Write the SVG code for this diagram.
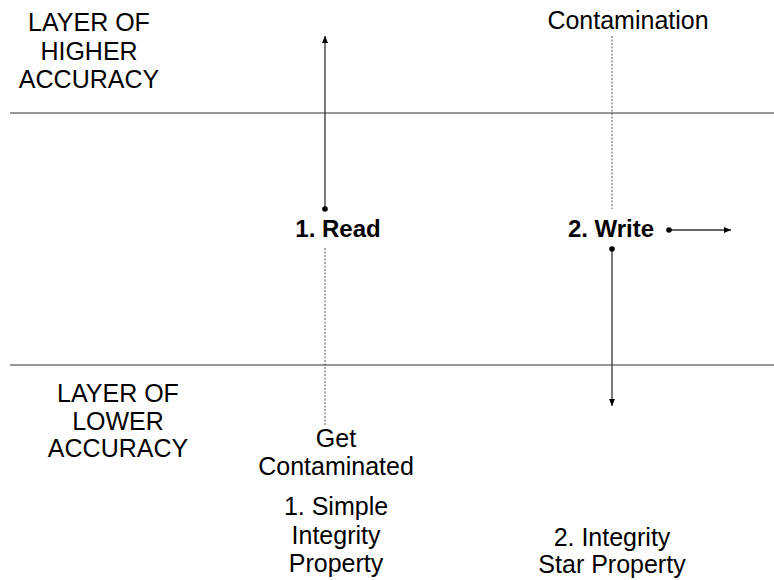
<svg xmlns="http://www.w3.org/2000/svg" width="774" height="580" viewBox="0 0 774 580">
  <style>
    text { font-family: "Liberation Sans", Arial, sans-serif; font-size: 25px; fill: #000; text-anchor: middle; }
    .bold { font-weight: bold; font-size: 24px; }
    .layer { stroke: #333; stroke-width: 1.2; fill: none; }
    .arrow { stroke: #333; stroke-width: 1.3; fill: none; marker-end: url(#head); }
    .dots { stroke: #555; stroke-width: 1; stroke-dasharray: 2 1.5; fill: none; }
    .dot { fill: #000; }
  </style>
  <defs>
    <marker id="head" markerWidth="8" markerHeight="8" refX="7" refY="4" orient="auto" markerUnits="userSpaceOnUse">
      <path d="M0,1 L7,4 L0,7 Z" fill="#000"/>
    </marker>
  </defs>

  <!-- layer boundaries -->
  <g id="layers">
    <line class="layer" x1="10" y1="113" x2="774" y2="113"/>
    <line class="layer" x1="10" y1="365" x2="774" y2="365"/>
  </g>

  <g id="higher-layer">
    <text x="89" y="31">LAYER OF</text>
    <text x="89" y="60">HIGHER</text>
    <text x="89" y="88">ACCURACY</text>
  </g>

  <g id="lower-layer">
    <text x="118" y="402">LAYER OF</text>
    <text x="118" y="430">LOWER</text>
    <text x="118" y="457">ACCURACY</text>
  </g>

  <g id="read">
    <text class="bold" x="338" y="237">1. Read</text>
  </g>

  <g id="write">
    <text class="bold" x="611" y="237">2. Write</text>
  </g>

  <g id="contamination">
    <text x="628" y="29">Contamination</text>
  </g>

  <g id="get-contaminated">
    <text x="336" y="447">Get</text>
    <text x="336" y="475">Contaminated</text>
  </g>

  <g id="simple-integrity">
    <text x="336" y="515">1. Simple</text>
    <text x="336" y="544">Integrity</text>
    <text x="336" y="572">Property</text>
  </g>

  <g id="integrity-star">
    <text x="612" y="546">2. Integrity</text>
    <text x="612" y="573">Star Property</text>
  </g>

  <g id="connectors">
    <!-- read up -->
    <line class="arrow" x1="325" y1="209" x2="325" y2="36"/>
    <circle class="dot" cx="325" cy="209" r="2.8"/>
    <!-- read down (dotted) -->
    <line class="dots" x1="325" y1="248" x2="325" y2="425"/>
    <!-- write up (dotted) -->
    <line class="dots" x1="612" y1="36" x2="612" y2="209"/>
    <!-- write right -->
    <line class="arrow" x1="669" y1="230" x2="731" y2="230"/>
    <circle class="dot" cx="669" cy="230" r="2.8"/>
    <!-- write down -->
    <line class="arrow" x1="612" y1="249" x2="612" y2="406"/>
    <circle class="dot" cx="612" cy="249" r="2.8"/>
  </g>
</svg>
